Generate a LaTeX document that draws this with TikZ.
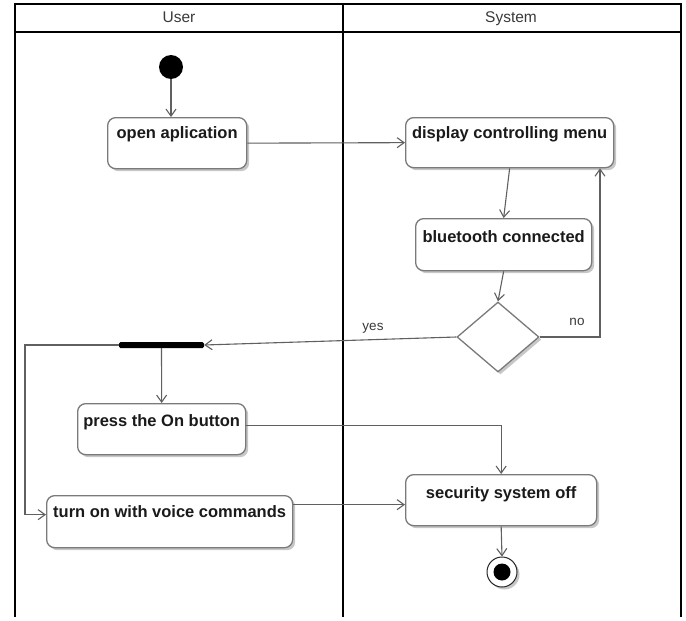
\documentclass[tikz,border=0pt]{standalone}
\usepackage{fontspec}
\setmainfont{Liberation Sans}
\usetikzlibrary{arrows.meta,shapes.geometric,shadows,calc}
\definecolor{boxgray}{HTML}{7A7A7A}
\definecolor{linegray}{HTML}{606060}
\definecolor{txt}{HTML}{1A1A1A}
\definecolor{hdr}{HTML}{3A3A3A}
\begin{document}
\begin{tikzpicture}[x=1pt,y=-1pt,
  shade box/.style={drop shadow={shadow xshift=2.5pt, shadow yshift=-2.5pt, opacity=0.22, fill=black}},
  act/.style={draw=boxgray, line width=1.3pt, rounded corners=8pt, fill=white,
    anchor=north west, inner sep=0pt, font=\fontsize{16.5}{18}\selectfont\bfseries,
    text=txt, shade box},
  dec/.style={diamond, draw=boxgray, line width=1.3pt, fill=white, minimum width=82pt,
    minimum height=70pt, inner sep=0pt, shade box},
  conn/.style={draw=linegray, line width=1.1pt, -{Straight Barb[length=7pt,width=10pt]}},
  frame/.style={draw=black, line width=1.8pt},
  hdrtext/.style={font=\fontsize{15.5}{17}\selectfont, text=hdr, anchor=base, inner sep=0pt},
  lbl/.style={font=\fontsize{13.5}{15}\selectfont, text=hdr, inner sep=0pt}]
\useasboundingbox (0,0) rectangle (686,621);
\fill[white] (0,0) rectangle (686,621);
% swimlane frame
\draw[frame] (15,617) -- (15,4) -- (681,4) -- (681,617);
\draw[frame] (15,32) -- (681,32);
\draw[frame] (343,4) -- (343,617);
\node[hdrtext] (hu) at (179,23) {User};
\node[hdrtext] (hs) at (511,23) {System};
% nodes
\node[circle, fill=black, minimum size=24pt, inner sep=0pt] (start) at (171,67) {};
\node[act, minimum width=139pt, text height=21pt, text depth=30pt] (openapp) at (107,117) {open aplication};
\node[act, minimum width=208pt, text height=21pt, text depth=29pt] (menu) at (405,117) {display controlling menu};
\node[act, minimum width=176pt, text height=24pt, text depth=28pt] (bt) at (415,218) {bluetooth connected};
\node[dec] (dec) at (498,337) {};
\node[fill=black, minimum width=85pt, minimum height=6pt, inner sep=0pt, rounded corners=1.5pt] (bar) at (161.5,345) {};
\node[act, minimum width=168pt, text height=23pt, text depth=28pt] (press) at (77,403) {press the On button};
\node[act, minimum width=246pt, text height=22pt, text depth=30pt] (voice) at (46,495) {turn on with voice commands};
\node[act, minimum width=191pt, text height=24pt, text depth=27pt] (secoff) at (405,474) {security system off};
\node[circle, draw=black!85, line width=1pt, fill=white, minimum size=30pt, inner sep=0pt,
  path picture={\fill[black] (path picture bounding box.center) circle (8.5pt);}, shade box] (end) at (502,572) {};
\node[lbl] (yes) at (373,328) {yes};
\node[lbl] (no) at (577,322) {no};
% connectors
\draw[conn] (start) -- (start |- openapp.north);
\draw[conn] (openapp.east) -- (menu.west);
\draw[conn] (menu.south) -- (bt.north);
\draw[conn] (bt.south) -- (dec.north);
\coordinate (nocorner) at (600,337);
\draw[conn] (dec.east) -- (nocorner) -- (nocorner |- menu.south);
\draw[conn] (dec.west) -- (bar.east);
\draw[conn] (bar.south) -- (press.north);
\coordinate (vcorner) at (25,345);
\draw[conn] (bar.west) -- (vcorner) |- ([yshift=7pt]voice.west);
\draw[conn] ([yshift=4pt]press.east) -| (secoff.north);
\draw[conn] ([yshift=17pt]voice.east) -- ([yshift=17pt]voice.east -| secoff.west);
\draw[conn] (secoff.south) -- (end.north);
\end{tikzpicture}
\end{document}
